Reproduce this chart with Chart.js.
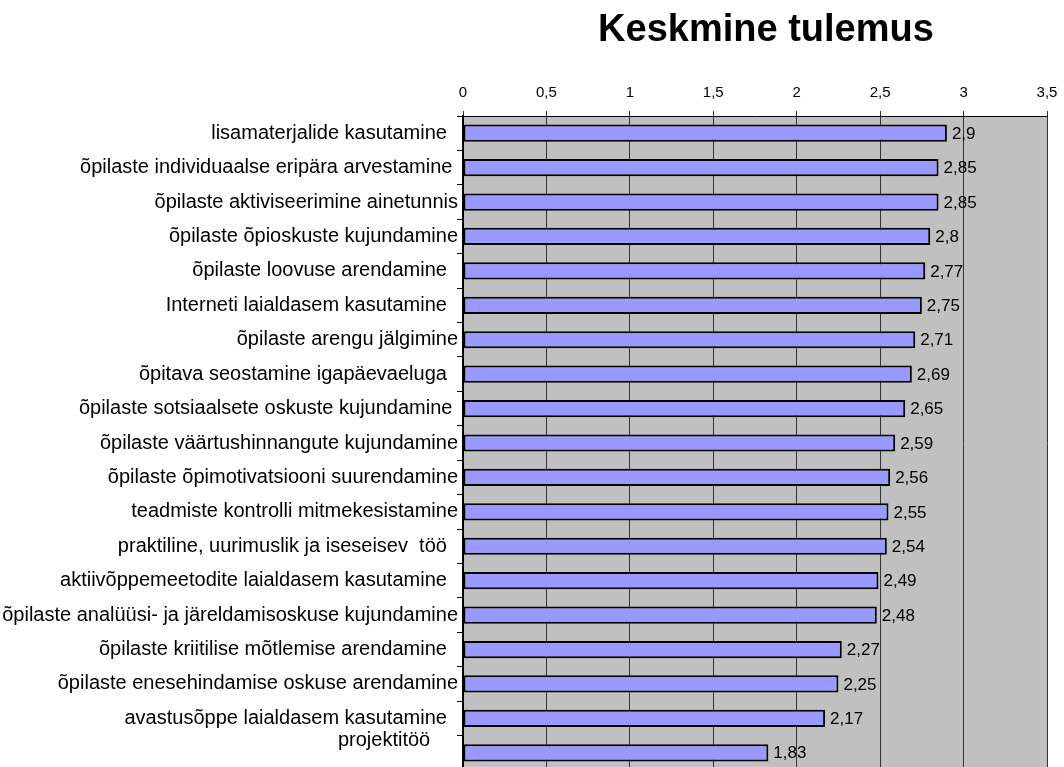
<!DOCTYPE html>
<html>
<head>
<meta charset="utf-8">
<script src="https://cdn.jsdelivr.net/npm/chart.js@4"></script>
<style>
  html, body { margin: 0; background: #fff; overflow: hidden; }
  #wrap { width: 1064px; height: 772px; }
</style>
</head>
<body>
<div id="wrap"><canvas id="chart"></canvas></div>
<script>
// Categories, top to bottom
const categories = [
    'lisamaterjalide kasutamine  ',
    'õpilaste individuaalse eripära arvestamine ',
    'õpilaste aktiviseerimine ainetunnis',
    'õpilaste õpioskuste kujundamine',
    'õpilaste loovuse arendamine  ',
    'Interneti laialdasem kasutamine  ',
    'õpilaste arengu jälgimine',
    'õpitava seostamine igapäevaeluga  ',
    'õpilaste sotsiaalsete oskuste kujundamine ',
    'õpilaste väärtushinnangute kujundamine',
    'õpilaste õpimotivatsiooni suurendamine',
    'teadmiste kontrolli mitmekesistamine',
    'praktiline, uurimuslik ja iseseisev  töö  ',
    'aktiivõppemeetodite laialdasem kasutamine  ',
    'õpilaste analüüsi- ja järeldamisoskuse kujundamine',
    'õpilaste kriitilise mõtlemise arendamine  ',
    'õpilaste enesehindamise oskuse arendamine',
    'avastusõppe laialdasem kasutamine  ',
    ['projektitöö     ', '']
];
const scores = [2.9, 2.85, 2.85, 2.8, 2.77, 2.75, 2.71, 2.69, 2.65, 2.59,
                2.56, 2.55, 2.54, 2.49, 2.48, 2.27, 2.25, 2.17, 1.83];
const chartTitle = 'Keskmine tulemus';
const axisMin = 0;
const axisMax = 3.5;
const axisStep = 0.5;

const FONT = "'Liberation Sans', Arial, sans-serif";

function comma(v) {
    return String(v).replace('.', ',');
}

// gray plot area
const plotBackground = {
    id: 'plotBackground',
    beforeDraw(chart) {
        const a = chart.chartArea;
        const ctx = chart.ctx;
        ctx.save();
        ctx.fillStyle = '#c0c0c0';
        ctx.fillRect(a.left, a.top, a.right - a.left, a.bottom - a.top);
        ctx.restore();
    }
};

// value labels at the end of each bar
const valueLabels = {
    id: 'valueLabels',
    afterDatasetsDraw(chart) {
        const ctx = chart.ctx;
        const meta = chart.getDatasetMeta(0);
        ctx.save();
        ctx.font = '17px ' + FONT;
        ctx.fillStyle = '#000';
        ctx.textAlign = 'left';
        ctx.textBaseline = 'middle';
        meta.data.forEach((bar, i) => {
            ctx.fillText(comma(scores[i]), bar.x + 5, bar.y + 1);
        });
        ctx.restore();
    }
};

const titleText = {
    id: 'titleText',
    afterDraw(chart) {
        const ctx = chart.ctx;
        ctx.save();
        ctx.font = 'bold 38px ' + FONT;
        ctx.fillStyle = '#000';
        ctx.textAlign = 'center';
        ctx.textBaseline = 'middle';
        ctx.fillText(chartTitle, 766, 31);
        ctx.restore();
    }
};

new Chart(document.getElementById('chart'), {
    type: 'bar',
    data: {
        labels: categories,
        datasets: [{
            data: scores,
            backgroundColor: '#9999ff',
            borderColor: '#000',
            borderWidth: 2,
            borderSkipped: false,
            categoryPercentage: 1,
            barPercentage: 0.5
        }]
    },
    options: {
        indexAxis: 'y',
        responsive: true,
        maintainAspectRatio: false,
        animation: false,
        layout: { padding: { top: 0, right: 17, bottom: 2, left: 0 } },
        plugins: {
            legend: { display: false },
            tooltip: { enabled: false }
        },
        scales: {
            x: {
                position: 'top',
                min: axisMin,
                max: axisMax,
                afterFit(scale) {
                    scale.height = 116;
                    scale.paddingLeft = 0;
                    scale.paddingRight = 0;
                },
                ticks: {
                    stepSize: axisStep,
                    color: '#000',
                    font: { family: FONT, size: 15 },
                    padding: 9,
                    callback: (v) => comma(v)
                },
                grid: {
                    color: '#333',
                    lineWidth: 1,
                    tickLength: 5
                },
                border: { display: true, color: '#000', width: 1 }
            },
            y: {
                afterFit(scale) {
                    scale.width = 463;
                    scale.paddingTop = 0;
                    scale.paddingBottom = 0;
                },
                ticks: {
                    color: '#000',
                    font: { family: FONT, size: 20 },
                    padding: -1,
                    autoSkip: false
                },
                grid: {
                    offset: true,
                    drawOnChartArea: false,
                    tickLength: 6,
                    color: '#000'
                },
                border: { display: true, color: '#000', width: 2 }
            }
        }
    },
    plugins: [plotBackground, valueLabels, titleText]
});
</script>
</body>
</html>
